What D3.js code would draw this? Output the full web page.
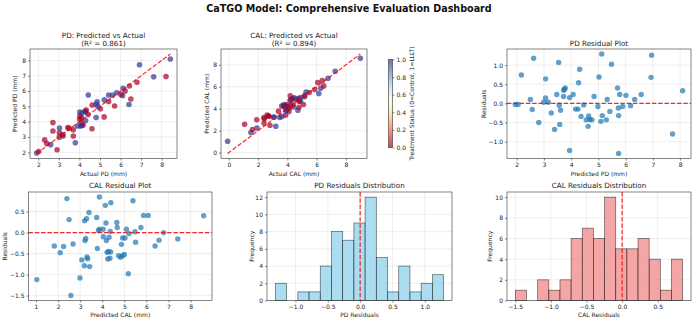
<!DOCTYPE html>
<html>
<head>
<meta charset="utf-8">
<title>CaTGO Model: Comprehensive Evaluation Dashboard</title>
<script src="https://d3js.org/d3.v7.min.js"></script>
<style>
  body { margin: 0; background: #fff; }
  svg { display: block; font-family: "DejaVu Sans", sans-serif; }
  .tick text { font-family: "DejaVu Sans", sans-serif; font-size: 6px; fill: #222; }
  .tick line { stroke: #333; stroke-width: 0.6px; }
  .grid line { stroke: #b0b0b0; stroke-opacity: 0.35; stroke-width: 0.6px; }
  .frame { fill: none; stroke: #333; stroke-width: 0.6px; }
  .label { font-size: 6px; fill: #222; }
  .title { font-size: 7.2px; fill: #222; }
</style>
</head>
<body>
<script>
// PD: predicted values, residuals (actual - predicted), treatment (0=Control, 1=LLLT)
const pdPred = [1.95, 2.05, 2.17, 2.50, 2.57, 2.62, 2.81, 2.99, 3.06, 3.06,
                3.16, 3.27, 3.39, 3.47, 3.54, 3.56, 3.58, 3.61, 3.72, 3.75,
                3.78, 3.94, 3.94, 4.07, 4.16, 4.25, 4.27, 4.31, 4.36, 4.46,
                4.55, 4.62, 4.64, 4.68, 4.76, 4.84, 4.98, 5.02, 5.09, 5.14,
                5.12, 5.29, 5.32, 3.72, 5.42, 5.48, 5.70, 5.73, 5.74, 5.74,
                5.78, 5.89, 6.01, 6.18, 6.33, 6.57, 6.93, 6.95, 7.72, 8.09];
const pdResid = [-0.03, -0.03, 0.74, 0.10, -0.16, 1.18, -0.50, 0.03, 0.14, 0.64,
                 0.03, -0.25, -0.68, 0.23, 1.07, -0.05, -0.55, -0.18, 0.18, 0.37,
                 0.40, 0.15, -1.23, 0.23, -0.15, -0.15, 0.54, 0.89, -0.34, -0.04,
                 -0.43, -0.60, -0.33, -0.42, -0.43, 0.18, -0.08, 0.69, -0.47, -0.32,
                 1.29, -0.43, 0.10, 0.34, -0.21, 1.02, 0.40, -0.12, -0.32, -1.31,
                 0.23, -0.08, 0.21, -0.06, 0.10, 0.23, 0.68, 1.26, -0.80, 0.33];
const pdTreat = [1, 0, 0, 1, 0, 1, 0, 0, 1, 0,
                 0, 0, 0, 0, 0, 0, 1, 0, 1, 1,
                 0, 0, 0, 1, 0, 0, 1, 0, 0, 0,
                 1, 1, 1, 1, 0, 0, 1, 0, 0, 1,
                 1, 1, 0, 1, 1, 0, 1, 1, 1, 1,
                 0, 1, 0, 1, 0, 0, 1, 0, 1, 1];

// CAL: predicted values, residuals, treatment
const calPred = [1.04, 1.83, 2.10, 2.25, 2.40, 2.50, 2.58, 2.68, 2.99, 3.08,
                 3.19, 3.20, 3.22, 3.25, 3.29, 3.31, 3.34, 3.40, 3.43, 3.75,
                 3.78, 3.83, 3.87, 3.87, 4.04, 4.05, 4.14, 4.17, 4.19, 4.22,
                 4.25, 4.28, 4.31, 4.35, 4.36, 4.38, 4.39, 4.66, 4.68, 4.74,
                 4.83, 4.87, 4.92, 4.92, 5.00, 5.03, 5.09, 5.18, 5.21, 5.39,
                 5.48, 5.51, 5.75, 5.87, 6.08, 6.39, 6.57, 6.78, 7.42, 8.59];
const calResid = [-1.12, -0.32, -0.48, -0.33, 0.81, 0.31, -1.50, -0.27, -1.08, -0.65,
                  -0.79, 0.28, -0.19, -0.14, 0.33, -0.58, -0.62, 0.48, -0.81, 0.36,
                  -0.38, 0.05, 0.85, 0.08, 0.08, -0.10, 0.65, 0.23, -0.19, -0.47,
                  -0.63, -0.45, -0.11, -0.61, 0.03, -0.46, 0.71, 0.24, 0.12, -0.55,
                  -0.59, -0.28, -0.13, -0.55, -0.52, -0.13, 0.08, -0.98, -0.02, 0.76,
                  0.02, -0.23, 0.12, 0.41, 0.41, -0.32, -0.18, 0.00, -0.15, 0.40];
const calTreat = [1, 1, 0, 1, 1, 0, 0, 0, 0, 0,
                  0, 1, 1, 1, 1, 0, 0, 0, 0, 0,
                  0, 1, 1, 1, 0, 0, 0, 1, 1, 1,
                  0, 1, 0, 1, 0, 0, 0, 1, 0, 0,
                  1, 0, 0, 0, 1, 1, 1, 0, 0, 1,
                  0, 1, 0, 1, 0, 0, 0, 1, 1, 1];

const pdR2 = "0.861";
const calR2 = "0.894";
const nBins = 15;

// tick lists
const pdTicks = [2, 3, 4, 5, 6, 7, 8];
const calTicks = [0, 2, 4, 6, 8];
const pdResidTicks = [-1.0, -0.5, 0.0, 0.5, 1.0];
const calPredTicks = [1, 2, 3, 4, 5, 6, 7, 8];
const calResidTicks = [-1.5, -1.0, -0.5, 0.0, 0.5];
const pdHistCountTicks = [0, 2, 4, 6, 8, 10, 12];
const calHistCountTicks = [0, 2, 4, 6, 8, 10];
const cbTicks = [0.0, 0.2, 0.4, 0.6, 0.8, 1.0];

const pdActual = pdPred.map((p, i) => +(p + pdResid[i]).toFixed(2));
const calActual = calPred.map((p, i) => +(p + calResid[i]).toFixed(2));

const W = 693, H = 320;
const svg = d3.select("body").append("svg").attr("width", W).attr("height", H);

const f1 = d3.format(".1f"), fi = d3.format("d");

// matplotlib-like 5% margins
function padded(lo, hi) {
  const m = (hi - lo) * 0.05;
  return [lo - m, hi + m];
}

function panel(box, xDom, yDom, xTicks, yTicks, xFmt, yFmt) {
  const x = d3.scaleLinear().domain(xDom).range([box.x0, box.x1]);
  const y = d3.scaleLinear().domain(yDom).range([box.y1, box.y0]);
  const g = svg.append("g");
  const grid = g.append("g").attr("class", "grid");
  grid.selectAll(".gx").data(xTicks).join("line").attr("class", "gx")
    .attr("x1", d => x(d)).attr("x2", d => x(d)).attr("y1", box.y0).attr("y2", box.y1);
  grid.selectAll(".gy").data(yTicks).join("line").attr("class", "gy")
    .attr("y1", d => y(d)).attr("y2", d => y(d)).attr("x1", box.x0).attr("x2", box.x1);
  const marks = g.append("g");
  g.append("g").attr("transform", `translate(0,${box.y1})`)
    .call(d3.axisBottom(x).tickValues(xTicks).tickFormat(xFmt).tickSize(2).tickPadding(2))
    .call(a => a.select(".domain").remove());
  g.append("g").attr("transform", `translate(${box.x0},0)`)
    .call(d3.axisLeft(y).tickValues(yTicks).tickFormat(yFmt).tickSize(2).tickPadding(2))
    .call(a => a.select(".domain").remove());
  g.append("rect").attr("class", "frame")
    .attr("x", box.x0).attr("y", box.y0)
    .attr("width", box.x1 - box.x0).attr("height", box.y1 - box.y0);
  return { x, y, marks, g };
}

function titleLines(box, lines, base) {
  const cx = (box.x0 + box.x1) / 2;
  lines.forEach((t, i) => {
    svg.append("text").attr("class", "title").attr("text-anchor", "middle")
      .attr("x", cx).attr("y", base - (lines.length - 1 - i) * 8).text(t);
  });
}

function xLabel(box, t, yb) {
  svg.append("text").attr("class", "label").attr("text-anchor", "middle")
    .attr("x", (box.x0 + box.x1) / 2).attr("y", yb).text(t);
}

function yLabel(box, t, xc) {
  const cy = (box.y0 + box.y1) / 2;
  svg.append("text").attr("class", "label").attr("text-anchor", "middle")
    .attr("transform", `translate(${xc},${cy}) rotate(-90)`)
    .attr("dy", "0.35em").text(t);
}

function dashed(sel, x1, y1, x2, y2) {
  sel.append("line").attr("x1", x1).attr("y1", y1).attr("x2", x2).attr("y2", y2)
    .attr("stroke", "red").attr("stroke-opacity", 0.85)
    .attr("stroke-width", 1.2).attr("stroke-dasharray", "4.4,1.9");
}

const top0 = 49, top1 = 158.5, bot0 = 192, bot1 = 300.5;
const box1 = { x0: 30, x1: 177, y0: top0, y1: top1 };
const box2 = { x0: 221, x1: 367, y0: top0, y1: top1 };
const box3 = { x0: 507, x1: 691, y0: top0, y1: top1 };
const box4 = { x0: 28.5, x1: 212, y0: bot0, y1: bot1 };
const box5 = { x0: 267, x1: 452, y0: bot0, y1: bot1 };
const box6 = { x0: 507, x1: 691, y0: bot0, y1: bot1 };

// suptitle
svg.append("text").attr("x", 349).attr("y", 11.8).attr("text-anchor", "middle")
  .attr("font-size", "9.6px").attr("font-weight", "bold").attr("fill", "#111")
  .text("CaTGO Model: Comprehensive Evaluation Dashboard");

// predicted vs actual scatter
function predVsActual(box, actual, pred, treat, xt, yt, fmt) {
  const lo = Math.min(d3.min(actual), d3.min(pred));
  const hi = Math.max(d3.max(actual), d3.max(pred));
  const xDom = padded(Math.min(lo, d3.min(actual)), Math.max(hi, d3.max(actual)));
  const yDom = padded(Math.min(lo, d3.min(pred)), Math.max(hi, d3.max(pred)));
  const p = panel(box, xDom, yDom, xt, yt, fmt, fmt);
  p.marks.selectAll("circle").data(actual).join("circle")
    .attr("cx", d => p.x(d)).attr("cy", (d, i) => p.y(pred[i])).attr("r", 2.8)
    .attr("fill", (d, i) => d3.interpolateRdYlBu(treat[i])).attr("fill-opacity", 0.7);
  dashed(p.marks, p.x(lo), p.y(lo), p.x(hi), p.y(hi));
  return p;
}

predVsActual(box1, pdActual, pdPred, pdTreat, pdTicks, pdTicks, fi);
titleLines(box1, ["PD: Predicted vs Actual", `(R\u00b2 = ${pdR2})`], 45.5);
xLabel(box1, "Actual PD (mm)", 176);
yLabel(box1, "Predicted PD (mm)", 15);

predVsActual(box2, calActual, calPred, calTreat, calTicks, calTicks, fi);
titleLines(box2, ["CAL: Predicted vs Actual", `(R\u00b2 = ${calR2})`], 45.5);
xLabel(box2, "Actual CAL (mm)", 176);
yLabel(box2, "Predicted CAL (mm)", 207);

// colorbar
const cb = { x0: 388.5, x1: 392.5, y0: 59.5, y1: 147.5 };
const grad = svg.append("defs").append("linearGradient").attr("id", "cbgrad")
  .attr("x1", 0).attr("y1", 1).attr("x2", 0).attr("y2", 0);
grad.selectAll("stop").data(d3.range(0, 1.0001, 0.05)).join("stop")
  .attr("offset", d => d).attr("stop-color", d => d3.interpolateRdYlBu(d));
svg.append("rect").attr("x", cb.x0).attr("y", cb.y0)
  .attr("width", cb.x1 - cb.x0).attr("height", cb.y1 - cb.y0)
  .attr("fill", "url(#cbgrad)").attr("fill-opacity", 0.7);
const cbScale = d3.scaleLinear().domain([0, 1]).range([cb.y1, cb.y0]);
svg.append("g").attr("transform", `translate(${cb.x1},0)`)
  .call(d3.axisRight(cbScale).tickValues(cbTicks).tickFormat(f1).tickSize(2).tickPadding(2))
  .call(a => a.select(".domain").remove());
svg.append("rect").attr("class", "frame").attr("x", cb.x0).attr("y", cb.y0)
  .attr("width", cb.x1 - cb.x0).attr("height", cb.y1 - cb.y0);
svg.append("text").attr("class", "label").attr("text-anchor", "middle")
  .attr("transform", `translate(412,${(cb.y0 + cb.y1) / 2}) rotate(-90)`)
  .attr("dy", "0.35em").text("Treatment Status (0=Control, 1=LLLT)");

// residual scatter
function residPlot(box, pred, resid, xt, yt, xFmt) {
  const p = panel(box, padded(d3.min(pred), d3.max(pred)), padded(d3.min(resid), d3.max(resid)),
    xt, yt, xFmt, f1);
  p.marks.selectAll("circle").data(pred).join("circle")
    .attr("cx", d => p.x(d)).attr("cy", (d, i) => p.y(resid[i])).attr("r", 2.7)
    .attr("fill", "#1f77b4").attr("fill-opacity", 0.7);
  dashed(p.marks, box.x0, p.y(0), box.x1, p.y(0));
}

residPlot(box3, pdPred, pdResid, pdTicks, pdResidTicks, fi);
titleLines(box3, ["PD Residual Plot"], 45.5);
xLabel(box3, "Predicted PD (mm)", 176);
yLabel(box3, "Residuals", 483.5);

residPlot(box4, calPred, calResid, calPredTicks, calResidTicks, fi);
titleLines(box4, ["CAL Residual Plot"], 188);
xLabel(box4, "Predicted CAL (mm)", 317);
yLabel(box4, "Residuals", 4.5);

// residual histograms
function histPlot(box, resid, xt, yt, color) {
  const lo = d3.min(resid), hi = d3.max(resid), w = (hi - lo) / nBins;
  const bins = d3.bin().domain([lo, hi])
    .thresholds(d3.range(1, nBins).map(i => lo + i * w))(resid);
  const p = panel(box, padded(lo, hi), [0, d3.max(bins, b => b.length) * 1.05], xt, yt, f1, fi);
  p.marks.selectAll("rect").data(bins).join("rect")
    .attr("x", b => p.x(b.x0)).attr("width", b => p.x(b.x1) - p.x(b.x0))
    .attr("y", b => p.y(b.length)).attr("height", b => p.y(0) - p.y(b.length))
    .attr("fill", color).attr("fill-opacity", 0.7)
    .attr("stroke", "#000").attr("stroke-opacity", 0.6).attr("stroke-width", 0.7);
  dashed(p.marks, p.x(0), box.y0, p.x(0), box.y1);
}

histPlot(box5, pdResid, pdResidTicks, pdHistCountTicks, "skyblue");
titleLines(box5, ["PD Residuals Distribution"], 188);
xLabel(box5, "PD Residuals", 317);
yLabel(box5, "Frequency", 252);

histPlot(box6, calResid, calResidTicks, calHistCountTicks, "lightcoral");
titleLines(box6, ["CAL Residuals Distribution"], 188);
xLabel(box6, "CAL Residuals", 317);
yLabel(box6, "Frequency", 490);
</script>
</body>
</html>
